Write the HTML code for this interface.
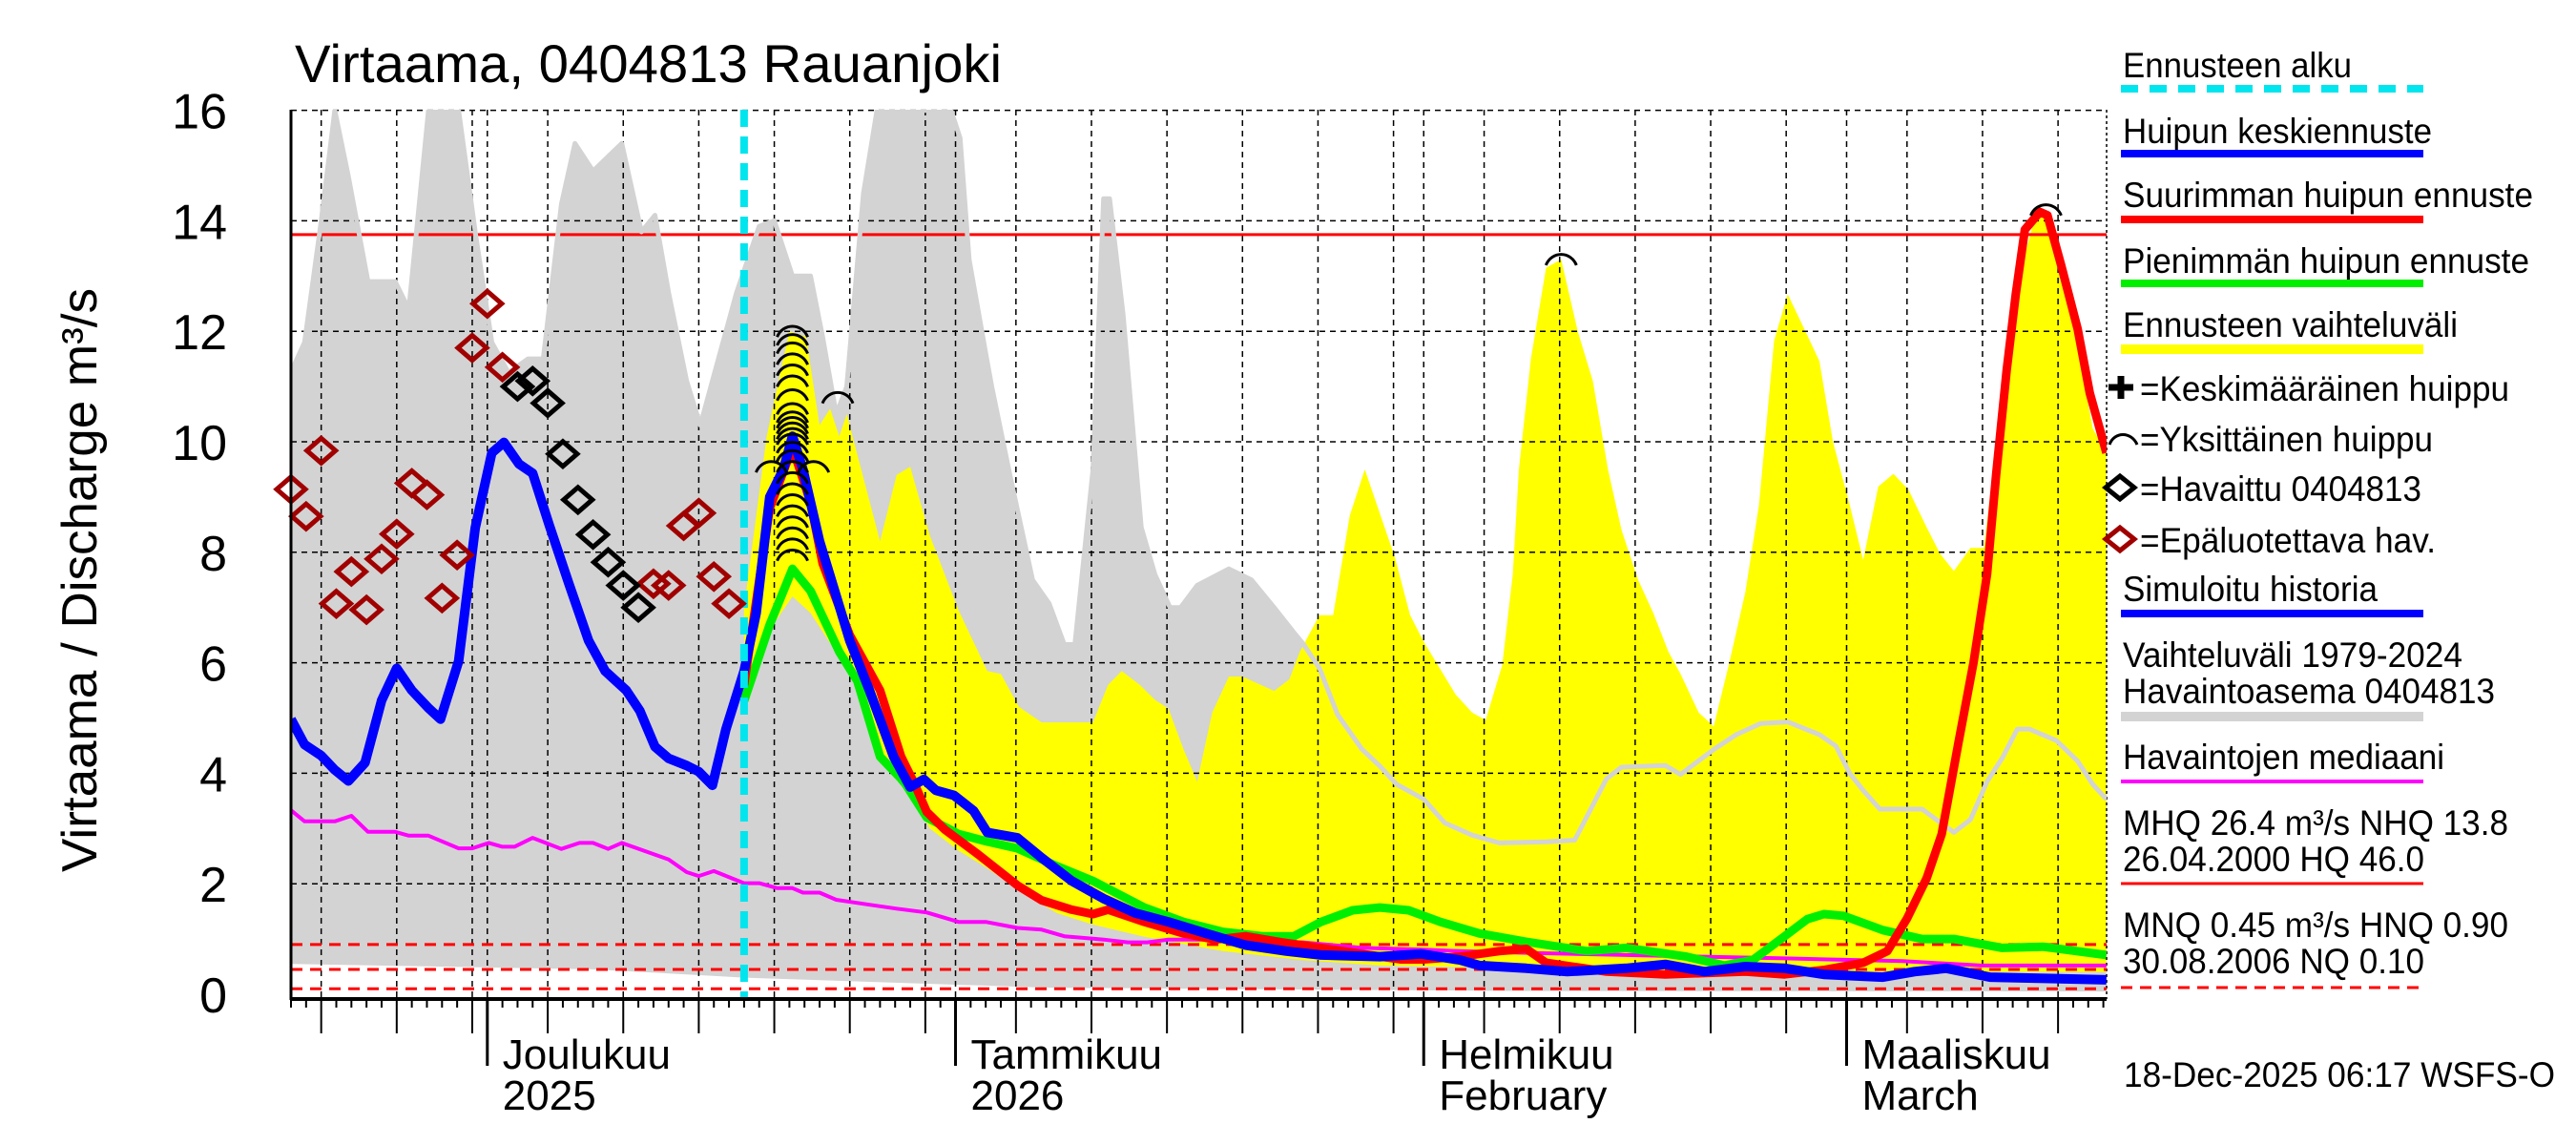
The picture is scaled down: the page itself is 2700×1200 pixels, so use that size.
<!DOCTYPE html>
<html><head><meta charset="utf-8"><title>Virtaama 0404813 Rauanjoki</title>
<style>html,body{margin:0;padding:0;background:#fff}svg{display:block}text{font-family:"Liberation Sans",sans-serif}</style></head>
<body>
<svg id="chart" width="2700" height="1200" viewBox="0 0 2700 1200" xmlns="http://www.w3.org/2000/svg">
<rect width="2700" height="1200" fill="#fff"/>
<defs><clipPath id="plotclip"><rect x="305" y="115" width="1903" height="932"/></clipPath></defs>
<text x="309" y="86" font-size="56" textLength="741" lengthAdjust="spacingAndGlyphs">Virtaama, 0404813 Rauanjoki</text>
<text transform="translate(101,608) rotate(-90)" text-anchor="middle" font-size="52" textLength="612" lengthAdjust="spacingAndGlyphs">Virtaama / Discharge   m³/s</text>
<g id="bands" clip-path="url(#plotclip)"></g>
<g id="grid"></g>
<g id="lines" clip-path="url(#plotclip)"></g>
<g id="marks"></g>
<g id="axes"></g>
<g id="legend">
<text x="2225" y="81" font-size="37" textLength="240" lengthAdjust="spacingAndGlyphs">Ennusteen alku</text>
<line x1="2223" y1="93" x2="2540" y2="93" stroke="#00e5ee" stroke-width="8" stroke-dasharray="18,12"/>
<text x="2225" y="150" font-size="37" textLength="324" lengthAdjust="spacingAndGlyphs">Huipun keskiennuste</text>
<line x1="2223" y1="161" x2="2540" y2="161" stroke="#0000ff" stroke-width="8"/>
<text x="2225" y="217" font-size="37" textLength="430" lengthAdjust="spacingAndGlyphs">Suurimman huipun ennuste</text>
<line x1="2223" y1="230" x2="2540" y2="230" stroke="#ff0000" stroke-width="8"/>
<text x="2225" y="286" font-size="37" textLength="426" lengthAdjust="spacingAndGlyphs">Pienimmän huipun ennuste</text>
<line x1="2223" y1="297" x2="2540" y2="297" stroke="#00ee00" stroke-width="8"/>
<text x="2225" y="353" font-size="37" textLength="351" lengthAdjust="spacingAndGlyphs">Ennusteen vaihteluväli</text>
<line x1="2223" y1="366" x2="2540" y2="366" stroke="#ffff00" stroke-width="10"/>
<path d="M2210 406 H2236 M2223 394 V418" stroke="#000" stroke-width="7"/>
<text x="2243" y="420" font-size="37" textLength="387" lengthAdjust="spacingAndGlyphs">=Keskimääräinen huippu</text>
<path d="M2211 466 C2216 452, 2234 452, 2240 466" stroke="#000" stroke-width="3" fill="none"/>
<text x="2243" y="473" font-size="37" textLength="307" lengthAdjust="spacingAndGlyphs">=Yksittäinen huippu</text>
<path d="M2207 511 L2222 499 L2237 511 L2222 523 Z" stroke="#000" stroke-width="5" fill="none"/>
<text x="2243" y="525" font-size="37" textLength="295" lengthAdjust="spacingAndGlyphs">=Havaittu 0404813</text>
<path d="M2207 565 L2222 553 L2237 565 L2222 577 Z" stroke="#a00000" stroke-width="5" fill="none"/>
<text x="2243" y="579" font-size="37" textLength="310" lengthAdjust="spacingAndGlyphs">=Epäluotettava hav.</text>
<text x="2225" y="630" font-size="37" textLength="267" lengthAdjust="spacingAndGlyphs">Simuloitu historia</text>
<line x1="2223" y1="643" x2="2540" y2="643" stroke="#0000ff" stroke-width="8"/>
<text x="2225" y="699" font-size="37" textLength="356" lengthAdjust="spacingAndGlyphs">Vaihteluväli 1979-2024</text>
<text x="2225" y="737" font-size="37" textLength="390" lengthAdjust="spacingAndGlyphs">Havaintoasema 0404813</text>
<line x1="2223" y1="751" x2="2540" y2="751" stroke="#d3d3d3" stroke-width="10"/>
<text x="2225" y="806" font-size="37" textLength="337" lengthAdjust="spacingAndGlyphs">Havaintojen mediaani</text>
<line x1="2223" y1="819" x2="2540" y2="819" stroke="#ff00ff" stroke-width="4"/>
<text x="2225" y="875" font-size="37" textLength="404" lengthAdjust="spacingAndGlyphs">MHQ 26.4 m³/s NHQ 13.8</text>
<text x="2225" y="913" font-size="37" textLength="316" lengthAdjust="spacingAndGlyphs">26.04.2000 HQ 46.0</text>
<line x1="2223" y1="926" x2="2540" y2="926" stroke="#ff0000" stroke-width="3"/>
<text x="2225" y="982" font-size="37" textLength="404" lengthAdjust="spacingAndGlyphs">MNQ 0.45 m³/s HNQ 0.90</text>
<text x="2225" y="1020" font-size="37" textLength="316" lengthAdjust="spacingAndGlyphs">30.08.2006 NQ 0.10</text>
<line x1="2223" y1="1035" x2="2540" y2="1035" stroke="#ff0000" stroke-width="3" stroke-dasharray="12,8"/>
</g>
<text x="2226" y="1139" font-size="37" textLength="452" lengthAdjust="spacingAndGlyphs">18-Dec-2025 06:17 WSFS-O</text>
</svg>
<script>
// ---- data (days since 18 Nov 2025, values m3/s) ----
const greyUpDays=[0,0.9,2.0,2.9,3.8,5.1,6.9,7.8,9.1,11.1,12.2,13.3,14.4,15.7,16.7,17.9,18.8,20.0,21.9,23.2,24.1,25.0,26.2,27.1,28.2,29.5,31.0,32.0,33.2,34.4,35.2,36.1,36.8,37.9,38.8,43.7,44.3,44.9,46.0,46.4,47.6,49.1,50.2,51.2,51.9,53.1,53.8,54.2,55.1,56.3,57.2,58.2,58.9,60.0,62.1,63.6,65.1,66.4,67.0,68.1,69.3,70.9,72.1,73.2,75.0,76.4,78.2,80.0,81.8,83.1,85.0,87.1,88.1,91.0,92.0,94.2,95.7,97.3,99.1,101.2,102.3,103.2,104.1,105.2,108.0,110.1,111.2,112.3,113.3,114.3,115.1,116.9,118.3,119.3,120.2];
const greyUpVals=[11.26,11.8,14.0,16,14.8,12.9,12.9,12.4,16,16,13.8,11.8,11.25,11.5,11.5,14.3,15.4,14.9,15.4,13.8,14.1,12.7,11.1,10.3,11.4,12.7,13.9,14.0,13.0,13.0,11.9,10.5,11.0,14.5,16,16,15.5,13.3,11.6,11.0,9.4,7.5,7.07,6.33,6.33,9.5,14.4,14.4,12.3,8.45,7.6,7.0,7.0,7.4,7.7,7.5,7.0,6.55,6.35,5.9,5.06,4.44,4.13,3.8,3.53,3.1,2.88,2.74,2.75,2.76,2.79,3.9,4.11,4.14,3.98,4.43,4.7,4.9,4.93,4.7,4.49,4.0,3.69,3.35,3.35,2.93,3.16,3.85,4.27,4.8,4.8,4.59,4.22,3.8,3.53];
const greyLoDays=[0,20,30,50,80,120.2];
const greyLoVals=[0.55,0.45,0.3,0.12,0.06,0.05];
const yelUpDays=[30,31.5,33.0,34.1,35.0,35.7,36.3,36.8,39.0,40.1,41.0,42.3,44.2,46.1,47.0,48.2,49.7,53.1,54.1,55.0,56.2,57.2,58.1,59.1,60.0,61.0,62.1,63.0,65.1,66.1,66.8,68.1,69.0,70.1,71.1,73.1,74.1,75.0,77.1,78.2,79.1,80.2,80.9,81.3,82.1,83.1,84.1,85.2,86.2,87.2,88.1,89.2,90.2,91.2,92.0,93.2,94.2,95.2,96.3,97.2,98.2,99.1,100.2,101.2,102.1,103.2,104.1,105.1,106.1,107.1,108.3,109.2,110.1,111.2,112.1,113.1,114.2,115.4,116.2,117.2,118.3,119.3,120.2];
const yelUpVals=[7.0,10.1,12.0,11.9,10.3,10.6,10.1,10.5,8.2,9.4,9.55,8.3,6.95,5.85,5.8,5.2,4.92,4.92,5.6,5.85,5.6,5.33,5.17,4.43,3.85,5.1,5.75,5.75,5.49,5.7,6.2,6.86,6.86,8.66,9.5,7.9,6.86,6.38,5.43,5.1,4.96,5.96,7.6,9.5,11.5,13.15,13.3,12.0,11.1,9.5,8.4,7.5,6.9,6.2,5.8,5.1,4.85,5.96,7.28,8.86,11.83,12.67,12.04,11.46,10.0,8.86,7.86,9.19,9.42,9.13,8.45,7.97,7.66,8.08,8.08,10.45,12.77,14.0,14.2,13.2,11.7,10.24,9.8];
const yelLoDays=[30,31.7,33.2,34.4,36.3,37.5,39.0,40.4,41.3,42.3,44.2,46.0,48.1,50.7,53.1,56.5,61.7,67.0,72.1,81.8,91.3,120.2];
const yelLoVals=[5.3,6.6,7.2,6.9,6.1,5.6,4.2,3.85,3.5,3.0,2.6,2.3,1.9,1.47,1.26,1.04,0.78,0.62,0.52,0.47,0.42,0.4];
const histDays=[0,0.9,2.0,2.9,3.8,4.9,6.0,7.0,8.0,9.1,9.9,11.1,12.2,13.3,14.1,15.1,16.0,17.1,18.4,19.7,20.8,22.2,23.1,24.1,25.0,26.2,27.0,27.9,28.8,30.0];
const histVals=[4.98,4.52,4.32,4.06,3.86,4.19,5.32,5.9,5.5,5.18,4.98,6.03,8.44,9.8,9.99,9.6,9.43,8.49,7.43,6.4,5.85,5.5,5.13,4.48,4.27,4.14,4.03,3.78,4.8,5.85];
const meanDays=[30,30.8,31.7,32.6,33.2,33.9,35.0,37.0,38.3,39.9,41.0,41.9,42.7,43.9,45.2,46.1,48.1,49.7,51.7,53.8,55.9,58.1,60.6,63.2,65.9,68.2,72.1,74.8,77.4,78.7,81.8,84.5,88.4,91.0,93.6,96.3,98.9,101.5,105.4,107.5,109.6,112.5,120.2];
const meanVals=[5.85,6.9,9.0,9.5,10.1,9.5,8.2,6.4,5.5,4.3,3.75,3.89,3.69,3.6,3.32,2.93,2.83,2.47,2.05,1.73,1.47,1.31,1.1,0.89,0.78,0.71,0.68,0.73,0.62,0.52,0.47,0.41,0.47,0.54,0.41,0.5,0.47,0.36,0.31,0.41,0.47,0.31,0.26];
const maxDays=[30,31.7,33.2,34.4,35.2,37.0,39.0,40.4,41.3,42.1,43.3,45.5,48.1,49.7,51.7,53.1,54.1,56.5,59.1,61.2,63.2,65.6,68.2,70.9,73.5,75.0,77.4,80.0,81.8,83.1,87.1,91.0,96.3,98.9,101.5,104.1,105.7,107.0,108.3,109.3,110.4,111.4,112.3,112.9,113.6,114.2,114.8,115.8,116.3,117.2,118.3,119.1,120.2];
const maxVals=[5.6,8.8,9.9,8.9,7.8,6.5,5.5,4.3,3.8,3.3,2.98,2.53,1.97,1.7,1.53,1.45,1.53,1.31,1.1,0.99,1.05,0.94,0.84,0.73,0.63,0.63,0.68,0.78,0.82,0.57,0.41,0.36,0.41,0.36,0.44,0.57,0.78,1.37,2.1,2.9,4.54,6.0,7.6,9.4,11.3,12.67,13.84,14.16,14.1,13.2,12.04,10.88,9.8];
const minDays=[30,31.7,33.2,34.4,36.3,37.5,39.0,40.4,40.7,42.1,44.2,46.0,48.1,50.7,53.1,56.5,59.1,61.7,64.3,66.4,68.2,70.3,72.1,74.0,76.1,78.7,81.8,85.8,88.4,92.4,94.9,96.8,98.9,100.4,101.5,102.8,105.4,108.0,110.1,113.3,116.0,120.2];
const minVals=[5.31,6.69,7.7,7.3,6.2,5.67,4.3,3.9,3.8,3.2,2.9,2.77,2.64,2.32,2.05,1.57,1.31,1.13,1.05,1.05,1.31,1.52,1.57,1.52,1.31,1.1,0.95,0.78,0.84,0.68,0.52,0.62,1.05,1.36,1.45,1.42,1.16,1.0,1.0,0.84,0.86,0.71];
const medDays=[0,0.9,2.9,4.0,5.1,6.9,7.8,9.1,11.1,12.0,13.1,14.0,14.8,16.0,17.9,19.1,20.0,21.0,21.9,25.0,26.2,27.0,28.0,30.0,31.0,32.2,33.2,33.9,35.0,36.1,38.3,40.1,42.1,44.2,46.0,48.1,49.7,51.2,53.8,55.4,56.7,58.1,61.7,67.0,70.9,74.8,77.4,81.8,88.4,98.9,106.7,111.9,120.2];
const medVals=[3.33,3.13,3.13,3.23,2.94,2.94,2.87,2.87,2.64,2.64,2.74,2.67,2.67,2.83,2.63,2.74,2.74,2.63,2.74,2.44,2.21,2.14,2.23,2.01,2.01,1.92,1.92,1.84,1.84,1.71,1.62,1.55,1.48,1.31,1.31,1.2,1.17,1.05,0.99,0.94,0.94,0.99,0.99,0.94,0.84,0.81,0.78,0.75,0.71,0.65,0.6,0.52,0.52];
const obsDays=[15,16,17,18,19,20,21,22,23];
const obsVals=[11.0,11.1,10.7,9.78,8.95,8.32,7.82,7.4,7.0];
const badDays=[0,1,2,3,4,5,6,7,8,9,10,11,12,13,14,24,25,26,27,28,29];
const badVals=[9.14,8.65,9.84,7.07,7.65,6.96,7.88,8.33,9.25,9.04,7.17,7.95,11.7,12.5,11.35,7.43,7.4,8.48,8.71,7.56,7.07];
const peakDays=[33.2,33.2,33.2,33.2,33.2,33.2,33.2,33.2,33.2,33.2,33.2,33.2,33.2,33.2,33.2,33.2,33.2,33.2,33.2,33.2,33.2,33.2,33.2,33.2,31.8,34.6,36.2,84.1,116.2];
const peakVals=[12.0,11.85,11.7,11.5,11.3,11.1,10.85,10.6,10.45,10.35,10.25,10.15,10.05,9.9,9.75,9.55,9.35,9.15,8.95,8.75,8.55,8.35,8.15,7.95,9.55,9.55,10.8,13.3,14.2];
const yTicks=[0,2,4,6,8,10,12,14,16];
const refLevels=[0.9,0.45,0.1];
const nhqLevel=13.75;
const forecastStartDay=30;
const monthLabels=[["Joulukuu","2025"],["Tammikuu","2026"],["Helmikuu","February"],["Maaliskuu","March"]];
const totalDays=120;

// ---- axes ----
const X0=305, PXD=15.83, Y0=1042, PXV=57.9;
function xs(d){return X0+d*PXD;}
function ys(v){return Y0-v*PXV;}
const NS="http://www.w3.org/2000/svg";
function mk(tag,attrs,parent){const e=document.createElementNS(NS,tag);for(const k in attrs)e.setAttribute(k,attrs[k]);parent.appendChild(e);return e;}
function pts(ds,vs){return ds.map((d,i)=>xs(d).toFixed(1)+","+ys(vs[i]).toFixed(1)).join(" ");}

const bands=document.getElementById("bands"),grid=document.getElementById("grid"),lines=document.getElementById("lines"),marks=document.getElementById("marks"),axes=document.getElementById("axes");

// grey band
let gp=pts(greyUpDays,greyUpVals)+" "+pts(greyLoDays.slice().reverse(),greyLoVals.slice().reverse());
let g=mk("polygon",{points:gp,fill:"#d3d3d3"},bands);


// yellow band
let yp=pts(yelUpDays,yelUpVals)+" "+pts(yelLoDays.slice().reverse(),yelLoVals.slice().reverse());
let yb=mk("polygon",{points:yp,fill:"#ffff00"},bands);



// grid
yTicks.forEach(v=>{
  if(v>0){let l=mk("line",{x1:X0,x2:2208,y1:ys(v),y2:ys(v),stroke:"#000","stroke-width":1.5,"stroke-dasharray":"6,5"},grid);
  
  }
  let t=mk("text",{x:238,y:ys(v)+19,"font-size":52,"text-anchor":"end"},axes);
  t.textContent=v;
  
  
});
const start=Date.UTC(2025,10,18);
let mi=0;
for(let i=0;i<=totalDays;i++){
  const dt=new Date(start+i*86400000);const dom=dt.getUTCDate();const x=xs(i);
  let len=9;
  if(dom===1||dom%5===0){
    let gl=mk("line",{x1:x,x2:x,y1:115,y2:1047,stroke:"#000","stroke-width":1.5,"stroke-dasharray":"6,5"},grid);
    
    
    len=36;
  }
  if(dom===1){len=70;
    const lab=monthLabels[mi++];
    if(lab){
      let t1=mk("text",{x:x+16,y:1120,"font-size":44},axes);t1.textContent=lab[0];
      
      
      let t2=mk("text",{x:x+16,y:1163,"font-size":44},axes);t2.textContent=lab[1];
      
      
    }
  }
  let tk=mk("line",{x1:x,x2:x,y1:1047,y2:1047+len,stroke:"#000","stroke-width":dom===1?3:2},axes);
  
  
}
let rb=mk("line",{x1:2208,x2:2208,y1:115,y2:1047,stroke:"#000","stroke-width":1.5,"stroke-dasharray":"3,3"},grid);


let ya=mk("line",{x1:X0,x2:X0,y1:115,y2:1048,stroke:"#000","stroke-width":3},axes);


let xa=mk("line",{x1:X0,x2:2208,y1:1047,y2:1047,stroke:"#000","stroke-width":4},axes);



// reference lines
let nl=mk("line",{x1:X0,x2:2208,y1:ys(nhqLevel),y2:ys(nhqLevel),stroke:"#ff0000","stroke-width":3},lines);


refLevels.forEach(v=>{let l=mk("line",{x1:X0,x2:2208,y1:ys(v),y2:ys(v),stroke:"#ff0000","stroke-width":3,"stroke-dasharray":"12,8"},lines);
  
  });

function series(ds,vs,color,w,name){
  let p=mk("polyline",{points:pts(ds,vs),fill:"none",stroke:color,"stroke-width":w,"stroke-linejoin":"round"},lines);
  
  
}
series(greyUpDays,greyUpVals,"#d3d3d3",5,"historical-range-upper-line");
series(medDays,medVals,"#ff00ff",4,"median-line");
series(minDays,minVals,"#00ee00",9,"min-peak-forecast-line");
series(maxDays,maxVals,"#ff0000",9,"max-peak-forecast-line");
series(meanDays,meanVals,"#0000ff",10,"mean-peak-forecast-line");
series(histDays,histVals,"#0000ff",10,"simulated-history-line");

let fc=mk("line",{x1:xs(forecastStartDay),x2:xs(forecastStartDay),y1:115,y2:1047,stroke:"#00e5ee","stroke-width":8,"stroke-dasharray":"18,10"},marks);



function diamond(d,v,color,name){
  const x=xs(d),y=ys(v);
  let p=mk("path",{d:`M${x-15} ${y} L${x} ${y-13} L${x+15} ${y} L${x} ${y+13} Z`,fill:"none",stroke:color,"stroke-width":5},marks);
  
  
}
badDays.forEach((d,i)=>diamond(d,badVals[i],"#a00000","unreliable-observation"));
obsDays.forEach((d,i)=>diamond(d,obsVals[i],"#000","observation"));
peakDays.forEach((d,i)=>{
  const x=xs(d),y=ys(peakVals[i]);
  let p=mk("path",{d:`M${x-16} ${y+6} C${x-10} ${y-9}, ${x+10} ${y-9}, ${x+16} ${y+6}`,fill:"none",stroke:"#000","stroke-width":3},marks);
  
  
});
</script>
</body></html>
